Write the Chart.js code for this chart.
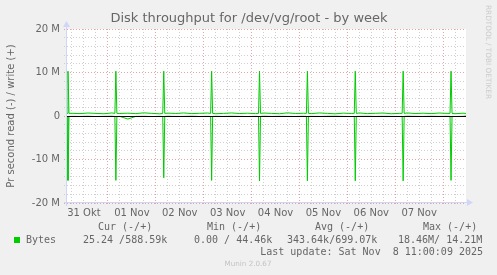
<!DOCTYPE html>
<html>
<head>
<meta charset="utf-8">
<script src="https://cdn.jsdelivr.net/npm/chart.js@4"></script>
<style>
  html, body { margin: 0; padding: 0; background: #f0f0f0; }
  #wrap { width: 497px; height: 275px; }
</style>
</head>
<body>
<div id="wrap"><canvas id="chart" width="497" height="275"></canvas></div>
<script>
/* ── Data (x = hours since 31 Okt 00:00, y = MB/s) ── */
const dayLabels = ['31 Okt', '01 Nov', '02 Nov', '03 Nov', '04 Nov', '05 Nov', '06 Nov', '07 Nov'];
const dayLabelHours = [12, 36, 60, 84, 108, 132, 156, 180];
const gridHours = [6, 12, 18, 24, 30, 36, 42, 48, 54, 60, 66, 72, 78, 84, 90, 96, 102, 108,
  114, 120, 126, 132, 138, 144, 150, 156, 162, 168, 174, 180, 186, 192, 198];

const baseHours = [6, 10, 14, 18, 22, 26, 30, 34, 38, 42, 46, 50, 54, 58, 62, 66, 70, 74, 78, 82,
  86, 90, 94, 98, 102, 106, 110, 114, 118, 122, 126, 130, 134, 138, 142, 146, 150, 154, 158, 162,
  166, 170, 174, 178, 182, 186, 190, 194, 198, 202, 203.5];
const writeBase = [0.62, 0.55, 0.68, 0.60, 0.52, 0.70, 0.58, 0.65, 0.55, 0.72, 0.60, 0.50, 0.66,
  0.58, 0.70, 0.55, 0.62, 0.68, 0.52, 0.60, 0.70, 0.57, 0.64, 0.55, 0.68, 0.60, 0.52, 0.72, 0.58,
  0.63, 0.55, 0.70, 0.60, 0.50, 0.66, 0.58, 0.70, 0.55, 0.62, 0.68, 0.52, 0.60, 0.70, 0.57, 0.64,
  0.55, 0.68, 0.60, 0.52, 0.65, 0.59];
const readBase = [-0.08, -0.10, -0.06, -0.12, -0.08, -0.05, -0.10, -0.70, -0.09, -0.07, -0.12,
  -0.08, -0.06, -0.10, -0.09, -0.05, -0.11, -0.08, -0.07, -0.10, -0.06, -0.09, -0.12, -0.08, -0.05,
  -0.10, -0.07, -0.09, -0.11, -0.06, -0.08, -0.10, -0.07, -0.05, -0.09, -0.12, -0.08, -0.06, -0.10,
  -0.07, -0.09, -0.11, -0.05, -0.08, -0.10, -0.06, -0.09, -0.07, -0.11, -0.08, 0.00];

const spikeHours = [4, 28, 52, 76, 100, 124, 148, 172, 196];
const spikeWrite = [10.3, 10.3, 10.3, 10.3, 10.3, 10.3, 10.3, 10.3, 10.3];
const spikeRead = [-14.8, -14.8, -14.2, -14.8, -14.9, -14.9, -14.9, -14.9, -14.8];
const writeEdge = 0.6;
const readEdge = -0.1;

const legendHeads = ['Cur (-/+)', 'Min (-/+)', 'Avg (-/+)', 'Max (-/+)'];
const legendValues = ['25.24 /588.59k', '0.00 / 44.46k', '343.64k/699.07k', '18.46M/ 14.21M'];

/* Colors */
const GREEN = '#00cc00';
const FONT_COL = '#666666';
const MINOR = '#cfcfcf';
const MAJOR = '#e8a3a3';
const AXIS = '#cfd6f8';

function buildSeries(baseVals, spikeVals, edge) {
  const pts = baseHours.map((h, i) => ({ x: h, y: baseVals[i] * 1e6 }));
  spikeHours.forEach((h, i) => {
    pts.push({ x: h - 0.5, y: edge * 1e6 }, { x: h, y: spikeVals[i] * 1e6 }, { x: h + 0.5, y: edge * 1e6 });
  });
  return pts.sort((a, b) => a.x - b.x);
}

Chart.defaults.font.family = "'DejaVu Sans', sans-serif";
Chart.defaults.font.size = 10;
Chart.defaults.color = FONT_COL;

/* ── Munin decorations ── */
const muninPlugin = {
  id: 'munin',
  beforeDraw(chart) {
    const { ctx, chartArea: a } = chart;
    ctx.save();
    ctx.fillStyle = '#f0f0f0';
    ctx.fillRect(0, 0, chart.width, chart.height);
    ctx.fillStyle = '#ffffff';
    ctx.fillRect(a.left, a.top, a.right - a.left, a.bottom - a.top);
    ctx.restore();
  },
  afterDatasetsDraw(chart) {
    const { ctx, chartArea: a } = chart;
    const y0 = Math.round(chart.scales.y.getPixelForValue(0) - 0.5) + 0.5;
    ctx.save();
    ctx.strokeStyle = '#000';
    ctx.lineWidth = 1;
    ctx.beginPath();
    ctx.moveTo(a.left, y0);
    ctx.lineTo(a.right, y0);
    ctx.stroke();
    ctx.restore();
  },
  afterDraw(chart) {
    const { ctx, chartArea: a } = chart;
    ctx.save();

    /* axes with arrows */
    const ax = a.left - 0.5, ay = a.bottom - 0.5;
    ctx.strokeStyle = AXIS;
    ctx.fillStyle = AXIS;
    ctx.lineWidth = 1;
    ctx.beginPath();
    ctx.moveTo(ax, a.bottom + 3);
    ctx.lineTo(ax, a.top - 3);
    ctx.moveTo(a.left - 3, ay);
    ctx.lineTo(a.right + 3, ay);
    ctx.stroke();
    ctx.beginPath();
    ctx.moveTo(ax, a.top - 8);
    ctx.lineTo(ax - 3.5, a.top - 2);
    ctx.lineTo(ax + 3.5, a.top - 2);
    ctx.closePath();
    ctx.fill();
    ctx.beginPath();
    ctx.moveTo(a.right + 7, ay);
    ctx.lineTo(a.right + 1, ay - 3.5);
    ctx.lineTo(a.right + 1, ay + 3.5);
    ctx.closePath();
    ctx.fill();

    /* title */
    ctx.fillStyle = FONT_COL;
    ctx.font = "13px 'DejaVu Sans'";
    ctx.textAlign = 'center';
    ctx.textBaseline = 'middle';
    ctx.fillText('Disk throughput for /dev/vg/root - by week', 249, 19);

    /* legend */
    ctx.font = "10px 'DejaVu Sans Mono'";
    ctx.textAlign = 'left';
    const headX = [98, 207, 315, 423];
    legendHeads.forEach((t, i) => ctx.fillText(t, headX[i], 227.5));
    ctx.fillStyle = GREEN;
    ctx.fillRect(14, 237, 6, 6);
    ctx.fillStyle = FONT_COL;
    ctx.fillText('Bytes', 26, 240);
    const valX = [83, 194, 287, 398];
    legendValues.forEach((t, i) => ctx.fillText(t, valX[i], 240));
    ctx.textAlign = 'right';
    ctx.fillText('Last update: Sat Nov  8 11:00:09 2025', 483, 252);

    /* watermarks */
    ctx.fillStyle = '#c4c4c4';
    ctx.font = "7.2px 'DejaVu Sans'";
    ctx.textAlign = 'center';
    ctx.fillText('Munin 2.0.67', 248, 264);
    ctx.fillStyle = '#cccccc';
    ctx.font = "7.3px 'DejaVu Sans'";
    ctx.translate(487.5, 5);
    ctx.rotate(Math.PI / 2);
    ctx.textAlign = 'left';
    ctx.fillText('RRDTOOL / TOBI OETIKER', 0, 0);
    ctx.restore();
  },
};

const lineOpts = { borderColor: GREEN, borderWidth: 1, pointRadius: 0, tension: 0, fill: false };

new Chart(document.getElementById('chart'), {
  type: 'line',
  data: {
    datasets: [
      { label: 'read', data: buildSeries(readBase, spikeRead, readEdge), ...lineOpts },
      { label: 'write', data: buildSeries(writeBase, spikeWrite, writeEdge), ...lineOpts },
    ],
  },
  options: {
    responsive: false,
    devicePixelRatio: 1,
    animation: false,
    layout: { padding: { top: 29, right: 31, bottom: 0, left: 0 } },
    plugins: { legend: { display: false }, tooltip: { enabled: false } },
    scales: {
      x: {
        type: 'linear',
        min: 3.5,
        max: 203.5,
        afterFit: s => { s.height = 72; },
        afterBuildTicks: s => { s.ticks = gridHours.map(v => ({ value: v })); },
        grid: {
          color: c => (c.tick && c.tick.value % 24 === 0 ? MAJOR : MINOR),
          tickLength: 3,
          tickBorderDash: [1, 2],
        },
        border: { display: false, dash: [1, 2] },
        ticks: {
          autoSkip: false,
          maxRotation: 0,
          padding: 1,
          color: FONT_COL,
          callback: v => {
            const i = dayLabelHours.indexOf(v);
            return i >= 0 ? dayLabels[i] : '';
          },
        },
      },
      y: {
        min: -20e6,
        max: 20e6,
        afterFit: s => { s.width = 67; },
        grid: {
          color: c => (c.tick && c.tick.value % 1e7 === 0 ? MAJOR : MINOR),
          tickLength: 3,
          tickBorderDash: [1, 2],
        },
        border: { display: false, dash: [1, 2] },
        title: {
          display: true,
          text: 'Pr second read (-) / write (+)',
          color: FONT_COL,
          font: { size: 10 },
          padding: { top: 5, bottom: 0 },
        },
        ticks: {
          stepSize: 2e6,
          autoSkip: false,
          padding: 4,
          color: FONT_COL,
          callback: v => {
            if (v % 1e7 !== 0) return '';
            return v === 0 ? '0' : (v / 1e6) + ' M';
          },
        },
      },
    },
  },
  plugins: [muninPlugin],
});
</script>
</body>
</html>
